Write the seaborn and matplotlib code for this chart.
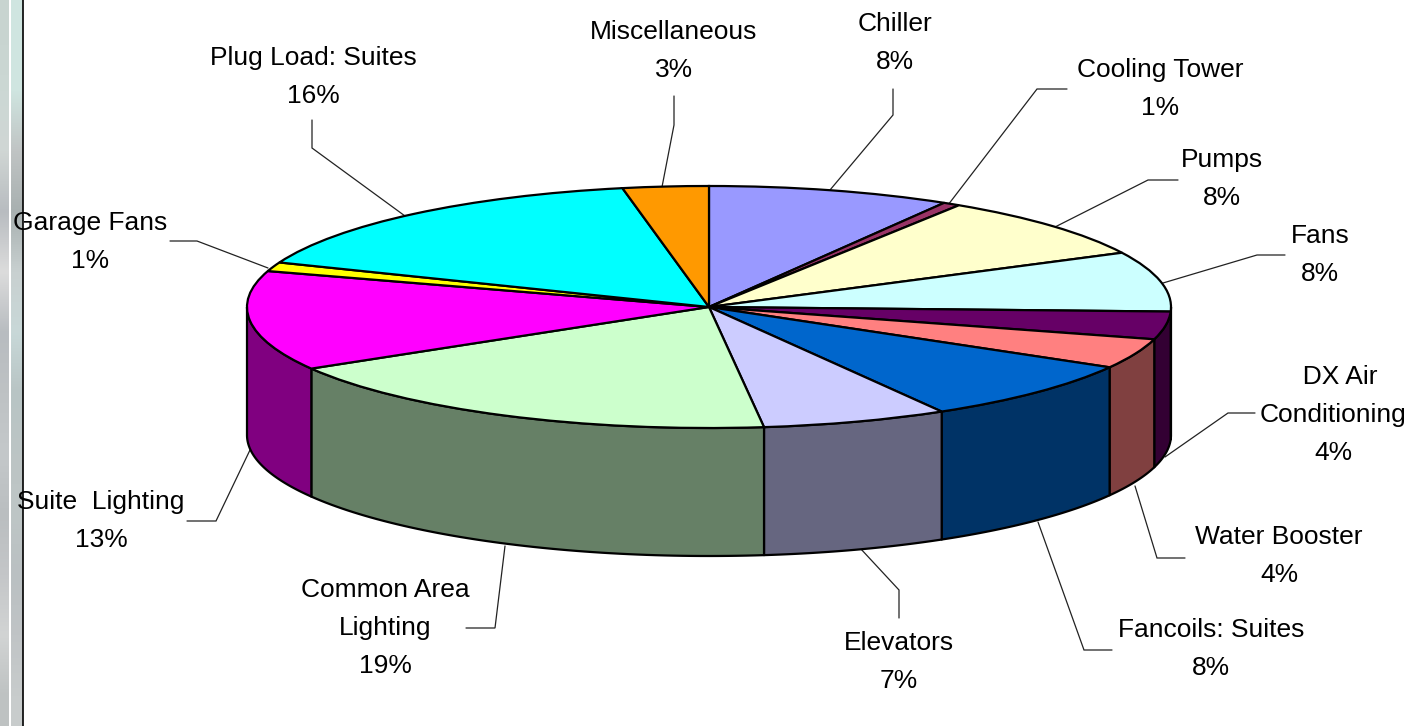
import numpy as np
import matplotlib
matplotlib.use("Agg")
import matplotlib.pyplot as plt
import seaborn as sns

# Share of energy use
categories = ["Chiller", "Cooling Tower", "Pumps", "Fans", "DX Air\nConditioning", "Water Booster",
              "Fancoils: Suites", "Elevators", "Common Area\nLighting", "Suite  Lighting",
              "Garage Fans", "Plug Load: Suites", "Miscellaneous"]
values = [8.5, 0.6, 8.5, 8.0, 3.7, 4.0, 8.3, 6.5, 18.4, 13.3, 1.2, 16.0, 3.0]
percent_labels = ["8%", "1%", "8%", "8%", "4%", "4%", "8%", "7%", "19%", "13%", "1%", "16%", "3%"]
top_colors = ["#9999FF", "#993366", "#FFFFCC", "#CCFFFF", "#660066", "#FF8080", "#0066CC",
              "#CCCCFF", "#CCFFCC", "#FF00FF", "#FFFF00", "#00FFFF", "#FF9900"]
side_colors = ["#4D4D80", "#4D1A33", "#808066", "#668080", "#330033", "#804040", "#003366",
               "#666680", "#668066", "#800080", "#808000", "#008080", "#804D00"]

# label centres and leader lines, in picture pixels
label_xy = [(895, 43), (1160, 89), (1222, 179), (1320, 255), (1333, 415), (1279, 556),
            (1211, 649), (899, 662), (385, 628), (101, 521), (90, 242), (313, 77), (674, 51)]
leaders = [
    [(893, 89), (893, 115), (830, 190)],
    [(1067, 89), (1037, 89), (948, 205)],
    [(1178, 180), (1148, 180), (1055, 227)],
    [(1285, 255), (1257, 255), (1163, 283)],
    [(1255, 413), (1228, 413), (1165, 457)],
    [(1185, 558), (1157, 558), (1135, 486)],
    [(1112, 650), (1084, 650), (1038, 522)],
    [(899, 618), (899, 590), (860, 548)],
    [(466, 628), (495, 628), (505, 546)],
    [(187, 521), (216, 521), (250, 450)],
    [(170, 241), (197, 241), (268, 268)],
    [(312, 120), (312, 148), (405, 216)],
    [(674, 96), (674, 125), (662, 187)],
]

# left edge of the slide background, coarse grey bands
strip_left = [(200, 212, 208), (204, 216, 212), (208, 214, 212), (184, 188, 192), (220, 220, 220), (184, 188, 192),
              (190, 194, 196), (196, 200, 202), (186, 190, 192), (196, 198, 200), (210, 212, 212), (190, 194, 194)]
strip_right = [(207, 229, 224), (207, 229, 224), (192, 196, 196), (168, 176, 176), (200, 208, 208), (200, 216, 216),
               (184, 196, 196), (188, 196, 196), (190, 198, 198), (186, 192, 194), (192, 196, 198), (200, 204, 204)]

sns.set_theme(style="white")
plt.rcParams["font.family"] = ["Liberation Sans", "DejaVu Sans"]

cx, cy, rx, ry, depth = 709, 307, 462, 121, 128

fig = plt.figure(figsize=(14.04, 7.26), dpi=100, facecolor="white")

# pixel axes for background, leaders and labels
ax = fig.add_axes([0, 0, 1, 1])
ax.imshow(np.array(strip_left, dtype=np.uint8)[:, None, :], extent=(0, 9, 726, 0), aspect="auto", interpolation="bilinear")
ax.imshow(np.array(strip_right, dtype=np.uint8)[:, None, :], extent=(11, 23, 726, 0), aspect="auto", interpolation="bilinear")
ax.plot([23, 23], [0, 726], color="black", lw=1.2)
ax.set_xlim(0, 1404)
ax.set_ylim(726, 0)
ax.axis("off")

# pie axes, one unit is one radius squashed into the ellipse
pie_ax = fig.add_axes([0, 0, 1, 1], facecolor="none")
pie_ax.pie(values, colors=sns.color_palette(top_colors, as_cmap=False), startangle=90, counterclock=False,
           wedgeprops=dict(edgecolor="black", linewidth=1.6, zorder=5))
pie_ax.set_aspect("auto")
pie_ax.set_xlim((0 - cx) / rx, (1404 - cx) / rx)
pie_ax.set_ylim((cy - 726) / ry, cy / ry)
pie_ax.axis("off")

# side walls, only the front half of the rim shows
d = depth / ry
edges = np.cumsum([0] + values) / sum(values) * 360
for start, end, color in zip(edges[:-1], edges[1:], side_colors):
    a, b = max(start, 90), min(end, 270)
    if a >= b:
        continue
    theta = np.radians(np.linspace(a, b, 60))
    xs = np.sin(theta)
    ys = np.cos(theta)
    pie_ax.fill(np.r_[xs, xs[::-1]], np.r_[ys, ys[::-1] - d], facecolor=color,
                edgecolor="black", linewidth=1.6, joinstyle="round", zorder=2)

for line in leaders:
    xs, ys = zip(*line)
    ax.plot(xs, ys, color="#222222", lw=0.9, solid_joinstyle="miter")

for name, pct, (x, y) in zip(categories, percent_labels, label_xy):
    text = name.replace("DX Air", "  DX Air") + "\n" + pct
    ax.text(x, y, text, ha="center", va="center", fontsize=19, color="black",
            linespacing=1.72, zorder=10)

fig.savefig("out.png", dpi=100)
